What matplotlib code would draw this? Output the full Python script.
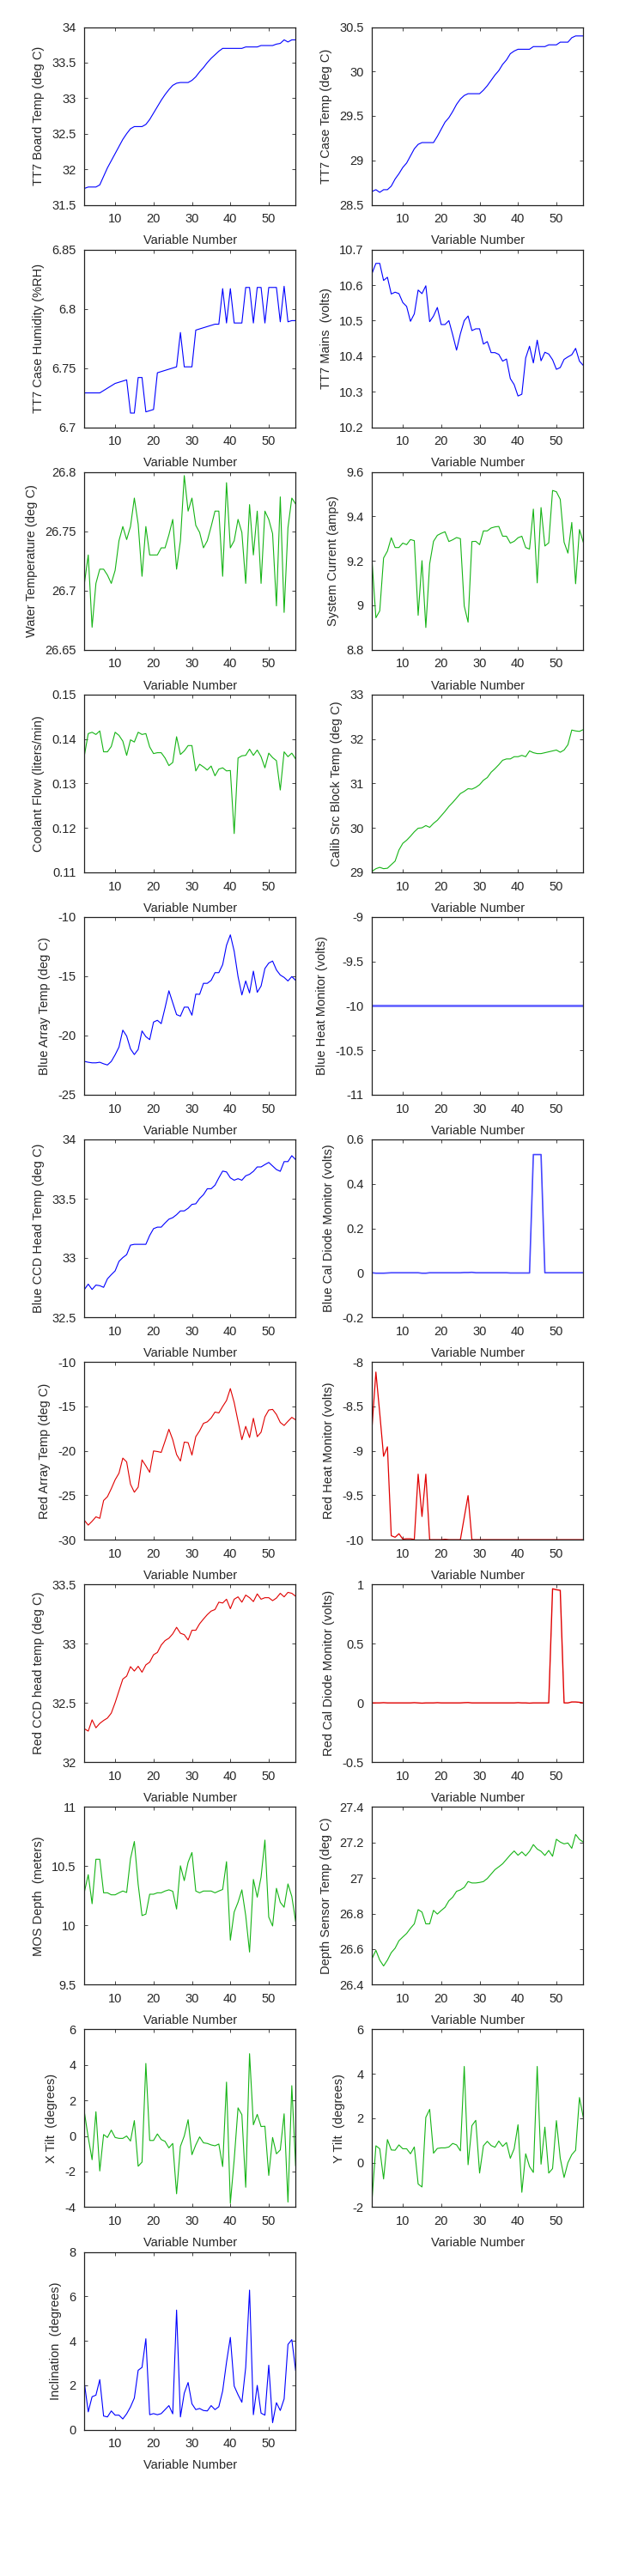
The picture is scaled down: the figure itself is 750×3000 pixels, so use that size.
import numpy as np
import matplotlib
matplotlib.use("Agg")
import matplotlib.pyplot as plt
from matplotlib.ticker import FormatStrFormatter, FuncFormatter

plt.rcParams["font.family"] = ["Liberation Sans", "DejaVu Sans"]

# sample index (Variable Number)
var_num = list(range(2, 58))

board_temp = [31.73, 31.75, 31.75, 31.75, 31.78, 31.9, 32.02, 32.12, 32.22, 32.32, 32.42, 32.5, 32.57, 32.6,
              32.6, 32.6, 32.63, 32.7, 32.79, 32.88, 32.97, 33.05, 33.12, 33.18, 33.21, 33.22, 33.22, 33.22,
              33.25, 33.3, 33.37, 33.43, 33.5, 33.56, 33.61, 33.66, 33.7, 33.7, 33.7, 33.7, 33.7, 33.7,
              33.72, 33.72, 33.72, 33.72, 33.74, 33.74, 33.74, 33.74, 33.76, 33.77, 33.82, 33.79, 33.82, 33.82]
case_temp = [28.65, 28.67, 28.64, 28.67, 28.67, 28.71, 28.79, 28.85, 28.92, 28.97, 29.05, 29.13, 29.18, 29.2,
             29.2, 29.2, 29.2, 29.27, 29.35, 29.43, 29.48, 29.55, 29.63, 29.69, 29.73, 29.75, 29.75, 29.75,
             29.75, 29.79, 29.84, 29.9, 29.96, 30.01, 30.08, 30.13, 30.2, 30.23, 30.25, 30.25, 30.25, 30.25,
             30.28, 30.28, 30.28, 30.28, 30.3, 30.3, 30.3, 30.33, 30.33, 30.33, 30.38, 30.4, 30.4, 30.4]
case_humidity = [6.729, 6.729, 6.729, 6.729, 6.729, 6.731, 6.733, 6.735, 6.737, 6.738, 6.739, 6.740, 6.712,
                 6.712, 6.742, 6.742, 6.713, 6.714, 6.715, 6.746, 6.747, 6.748, 6.749, 6.750, 6.751, 6.780,
                 6.751, 6.751, 6.751, 6.782, 6.783, 6.784, 6.785, 6.786, 6.787, 6.787, 6.817, 6.788, 6.817,
                 6.788, 6.788, 6.788, 6.818, 6.818, 6.788, 6.818, 6.818, 6.788, 6.818, 6.818, 6.818, 6.789,
                 6.819, 6.789, 6.79, 6.79]
mains = [10.633, 10.661, 10.661, 10.613, 10.622, 10.575, 10.58, 10.576, 10.551, 10.54, 10.498, 10.519,
         10.586, 10.576, 10.598, 10.497, 10.513, 10.537, 10.489, 10.489, 10.5, 10.46, 10.417, 10.463, 10.5,
         10.513, 10.472, 10.477, 10.477, 10.434, 10.441, 10.41, 10.41, 10.405, 10.386, 10.392, 10.337, 10.32,
         10.288, 10.293, 10.395, 10.428, 10.381, 10.445, 10.387, 10.411, 10.406, 10.39, 10.363, 10.368,
         10.391, 10.398, 10.404, 10.422, 10.386, 10.374]
water_temp = [26.706, 26.73, 26.669, 26.706, 26.718, 26.718, 26.713, 26.706, 26.717, 26.742, 26.754, 26.743,
              26.754, 26.778, 26.756, 26.712, 26.754, 26.73, 26.73, 26.73, 26.736, 26.736, 26.747, 26.76,
              26.718, 26.742, 26.797, 26.767, 26.778, 26.755, 26.749, 26.736, 26.742, 26.754, 26.767, 26.767,
              26.712, 26.791, 26.736, 26.742, 26.76, 26.749, 26.706, 26.7725, 26.73, 26.767, 26.706, 26.767,
              26.76, 26.748, 26.687, 26.779, 26.6815, 26.753, 26.778, 26.773]
system_current = [9.197, 8.944, 8.975, 9.213, 9.244, 9.304, 9.26, 9.26, 9.28, 9.273, 9.296, 9.291, 8.955,
                  9.201, 8.9, 9.187, 9.288, 9.315, 9.324, 9.331, 9.287, 9.295, 9.305, 9.3, 8.997, 8.924,
                  9.287, 9.288, 9.273, 9.335, 9.335, 9.348, 9.353, 9.355, 9.311, 9.311, 9.28, 9.288, 9.304,
                  9.311, 9.26, 9.253, 9.433, 9.101, 9.44, 9.267, 9.281, 9.517, 9.511, 9.477, 9.284, 9.235,
                  9.373, 9.097, 9.341, 9.284]
coolant_flow = [0.1363, 0.1412, 0.1415, 0.141, 0.1418, 0.1371, 0.1371, 0.1383, 0.1415, 0.1408, 0.1395,
                0.1363, 0.1398, 0.1393, 0.1415, 0.141, 0.1412, 0.1382, 0.1367, 0.1369, 0.1369, 0.1357,
                0.134, 0.1347, 0.1405, 0.1365, 0.1373, 0.1385, 0.1385, 0.1328, 0.1343, 0.1337, 0.133,
                0.1339, 0.1317, 0.1332, 0.1335, 0.1328, 0.1329, 0.1187, 0.1357, 0.1362, 0.1363, 0.1377,
                0.1363, 0.1375, 0.136, 0.1335, 0.1368, 0.1358, 0.1351, 0.1285, 0.1371, 0.136, 0.1368, 0.1355]
calib_block = [29.02, 29.08, 29.11, 29.08, 29.09, 29.17, 29.25, 29.5, 29.65, 29.72, 29.81, 29.91, 29.99, 30.0,
               30.05, 30.01, 30.1, 30.17, 30.27, 30.37, 30.48, 30.57, 30.67, 30.77, 30.82, 30.88, 30.87,
               30.91, 30.97, 31.07, 31.13, 31.25, 31.33, 31.42, 31.52, 31.55, 31.55, 31.6, 31.6, 31.63,
               31.6, 31.73, 31.69, 31.67, 31.67, 31.69, 31.71, 31.73, 31.75, 31.7, 31.75, 31.87, 32.2,
               32.18, 32.17, 32.21]
blue_array = [-22.19, -22.26, -22.31, -22.31, -22.26, -22.39, -22.49, -22.19, -21.63, -20.98, -19.55, -20.05,
              -21.13, -21.61, -21.18, -19.62, -20.1, -20.35, -18.87, -18.72, -19.0, -17.66, -16.23, -17.24,
              -18.24, -18.37, -17.61, -17.61, -18.29, -16.51, -16.53, -15.6, -15.6, -15.35, -14.7, -14.7,
              -14.02, -12.39, -11.51, -12.89, -15.03, -16.58, -15.4, -16.41, -14.57, -16.36, -15.83, -14.35,
              -13.89, -13.72, -14.47, -14.9, -15.1, -15.4, -15.03, -15.35]
blue_heat = [-10.0] * 56
blue_ccd = [32.734, 32.779, 32.734, 32.771, 32.766, 32.752, 32.824, 32.859, 32.891, 32.971, 33.003, 33.028,
            33.108, 33.115, 33.115, 33.115, 33.115, 33.19, 33.247, 33.26, 33.26, 33.295, 33.327, 33.34,
            33.365, 33.397, 33.397, 33.419, 33.452, 33.457, 33.502, 33.534, 33.584, 33.584, 33.614, 33.676,
            33.733, 33.726, 33.676, 33.656, 33.669, 33.656, 33.693, 33.706, 33.731, 33.768, 33.768, 33.788,
            33.806, 33.776, 33.746, 33.731, 33.813, 33.813, 33.863, 33.83]
blue_cal = [0.0, -0.002, -0.002, -0.002, -0.001, 0.0, 0.0, 0.0, 0.0, 0.0, 0.0, 0.0, 0.0, -0.002, -0.002, 0.0,
            0.0, 0.0, 0.0, 0.0, 0.0, 0.0, 0.0, 0.0, 0.001, 0.001, 0.002, 0.0, 0.0, 0.0, 0.0, 0.0, 0.0,
            0.0, 0.0, 0.0, -0.001, -0.001, -0.001, -0.001, -0.001, -0.001, 0.532, 0.532, 0.532, 0.0, 0.0,
            0.0, 0.0, 0.0, 0.0, 0.0, 0.0, 0.0, 0.0, 0.0]
red_array = [-27.83, -28.36, -27.93, -27.43, -27.6, -25.59, -25.16, -24.26, -23.26, -22.52, -20.82, -21.25,
             -23.76, -24.66, -24.09, -21.02, -21.69, -22.42, -20.02, -20.08, -20.18, -18.91, -17.58, -18.75,
             -20.42, -21.15, -19.02, -19.08, -20.48, -18.41, -17.75, -16.91, -16.74, -16.31, -15.64, -15.74,
             -15.01, -14.34, -13.0, -14.57, -16.68, -18.75, -17.25, -18.51, -16.34, -18.41, -17.91, -16.18,
             -15.41, -15.34, -15.91, -16.81, -17.15, -16.68, -16.24, -16.51]
red_heat = [-8.727, -8.114, -8.576, -9.062, -8.955, -9.956, -9.973, -9.933, -9.993, -9.99, -9.99, -9.997,
            -9.263, -9.739, -9.263, -10.0, -10.0, -10.0, -10.0, -9.995, -10.0, -10.0, -10.0, -10.0, -9.75,
            -9.504, -10.0, -10.0, -10.0, -10.0, -10.0, -10.0, -10.0, -10.0, -10.0, -10.0, -10.0, -10.0,
            -10.0, -10.0, -10.0, -10.0, -10.0, -10.0, -10.0, -10.0, -10.0, -10.0, -10.0, -10.0, -10.0,
            -10.0, -10.0, -10.0, -10.0, -10.0]
red_ccd = [32.282, 32.262, 32.357, 32.29, 32.327, 32.352, 32.372, 32.414, 32.502, 32.602, 32.701, 32.726,
           32.806, 32.769, 32.809, 32.759, 32.821, 32.844, 32.906, 32.926, 32.988, 33.026, 33.046, 33.083,
           33.138, 33.088, 33.076, 33.031, 33.113, 33.113, 33.168, 33.208, 33.245, 33.275, 33.288, 33.35,
           33.343, 33.375, 33.295, 33.375, 33.395, 33.35, 33.41, 33.388, 33.355, 33.42, 33.375, 33.388,
           33.388, 33.363, 33.385, 33.425, 33.395, 33.433, 33.425, 33.4]
red_cal = [0.0, 0.0, 0.0, 0.002, 0.0, 0.0, 0.0, 0.0, 0.0, 0.0, 0.0, 0.002, 0.0, -0.002, 0.0, 0.0, 0.0, 0.002,
           0.0, 0.0, 0.0, 0.0, 0.0, 0.0, 0.002, 0.003, 0.0, 0.0, 0.0, 0.0, 0.0, 0.0, 0.0, 0.0, 0.0, 0.0,
           0.0, 0.0, 0.002, 0.0, 0.0, -0.002, 0.0, 0.0, 0.0, 0.0, 0.0, 0.963, 0.955, 0.95, 0.0, 0.0, 0.008,
           0.008, 0.005, 0.0]
mos_depth = [10.283, 10.428, 10.183, 10.558, 10.558, 10.275, 10.275, 10.258, 10.258, 10.275, 10.29, 10.278,
             10.563, 10.708, 10.345, 10.083, 10.095, 10.263, 10.263, 10.275, 10.275, 10.29, 10.3, 10.288,
             10.138, 10.503, 10.378, 10.533, 10.615, 10.29, 10.275, 10.29, 10.29, 10.29, 10.275, 10.29,
             10.303, 10.538, 9.875, 10.113, 10.195, 10.3, 10.083, 9.775, 10.388, 10.238, 10.408, 10.72,
             10.07, 9.995, 10.313, 10.195, 10.153, 10.35, 10.245, 10.033]
depth_temp = [26.547, 26.593, 26.538, 26.505, 26.538, 26.58, 26.605, 26.647, 26.668, 26.688, 26.717, 26.742,
              26.822, 26.808, 26.742, 26.742, 26.818, 26.797, 26.817, 26.835, 26.872, 26.892, 26.925, 26.933,
              26.947, 26.98, 26.972, 26.972, 26.975, 26.98, 26.997, 27.022, 27.047, 27.063, 27.08, 27.105,
              27.13, 27.152, 27.128, 27.147, 27.125, 27.15, 27.188, 27.163, 27.15, 27.127, 27.155, 27.122,
              27.218, 27.202, 27.192, 27.197, 27.167, 27.245, 27.217, 27.202]
x_tilt = [1.333, -0.083, -1.333, 1.367, -1.967, 0.083, -0.083, 0.333, -0.083, -0.133, -0.133, 0.0, -0.283,
          0.867, -1.7, -1.467, 4.083, -0.25, -0.25, 0.117, -0.2, -0.3, -0.667, -0.417, -3.25, -0.583, 0.0,
          0.917, -1.05, -0.5, -0.05, -0.383, -0.417, -0.5, -0.55, -0.45, -1.717, 3.033, -3.783, -1.333,
          1.583, 1.2, -2.883, 4.633, 0.633, 1.217, 0.533, 0.55, -2.217, -0.083, -1.0, -0.783, 1.25, -3.717,
          2.833, -1.667]
y_tilt = [-1.64, 0.76, 0.627, -0.733, 1.04, 0.573, 0.56, 0.8, 0.627, 0.627, 0.4, 0.707, -0.96, -1.093, 2.04,
          2.4, 0.427, 0.64, 0.667, 0.667, 0.707, 0.867, 0.8, 0.533, 4.333, -0.093, 1.667, 1.907, -0.467,
          0.76, 0.96, 0.773, 0.693, 0.973, 0.733, 0.907, 0.2, 0.627, 1.707, -1.333, 0.4, -0.173, -0.44,
          4.333, -0.067, 1.6, -0.467, -0.267, 1.893, 0.2, -0.667, 0.0, 0.36, 0.56, 2.933, 2.04]
inclination = [2.09, 0.8, 1.48, 1.55, 2.25, 0.61, 0.57, 0.84, 0.65, 0.65, 0.48, 0.71, 1.02, 1.42, 2.67, 2.8,
               4.09, 0.67, 0.72, 0.67, 0.72, 0.9, 1.08, 0.71, 5.38, 0.57, 1.64, 2.12, 1.16, 0.9, 0.95, 0.86,
               0.84, 1.08, 0.9, 1.03, 1.74, 3.03, 4.15, 1.96, 1.57, 1.23, 2.8, 6.28, 0.67, 1.99, 0.74, 0.65,
               2.9, 0.31, 1.21, 0.86, 1.38, 3.83, 4.05, 2.67]

BLUE = "#0000ff"
GREEN = "#16b416"
RED = "#e00000"

# (data, ylabel, ylim, yticks step, colour, linewidth)
panels = [
    (board_temp, "TT7 Board Temp (deg C)", (31.5, 34), 0.5, BLUE, 0.8),
    (case_temp, "TT7 Case Temp (deg C)", (28.5, 30.5), 0.5, BLUE, 0.8),
    (case_humidity, "TT7 Case Humidity (%RH)", (6.7, 6.85), 0.05, BLUE, 0.8),
    (mains, "TT7 Mains  (volts)", (10.2, 10.7), 0.1, BLUE, 0.8),
    (water_temp, "Water Temperature (deg C)", (26.65, 26.8), 0.05, GREEN, 0.8),
    (system_current, "System Current (amps)", (8.8, 9.6), 0.2, GREEN, 0.8),
    (coolant_flow, "Coolant Flow (liters/min)", (0.11, 0.15), 0.01, GREEN, 0.8),
    (calib_block, "Calib Src Block Temp (deg C)", (29, 33), 1, GREEN, 0.8),
    (blue_array, "Blue Array Temp (deg C)", (-25, -10), 5, BLUE, 0.8),
    (blue_heat, "Blue Heat Monitor (volts)", (-11, -9), 0.5, "#5a5aff", 1.8),
    (blue_ccd, "Blue CCD Head Temp (deg C)", (32.5, 34), 0.5, BLUE, 0.8),
    (blue_cal, "Blue Cal Diode Monitor (volts)", (-0.2, 0.6), 0.2, "#4646ff", 1.2),
    (red_array, "Red Array Temp (deg C)", (-30, -10), 5, RED, 0.8),
    (red_heat, "Red Heat Monitor (volts)", (-10, -8), 0.5, RED, 0.9),
    (red_ccd, "Red CCD head temp (deg C)", (32, 33.5), 0.5, RED, 0.8),
    (red_cal, "Red Cal Diode Monitor (volts)", (-0.5, 1), 0.5, RED, 1.0),
    (mos_depth, "MOS Depth  (meters)", (9.5, 11), 0.5, GREEN, 0.8),
    (depth_temp, "Depth Sensor Temp (deg C)", (26.4, 27.4), 0.2, GREEN, 0.8),
    (x_tilt, "X Tilt  (degrees)", (-4, 6), 2, GREEN, 0.8),
    (y_tilt, "Y Tilt  (degrees)", (-2, 6), 2, GREEN, 0.8),
    (inclination, "Inclination  (degrees)", (0, 8), 2, BLUE, 0.8),
]

W, H = 750, 3000
fig = plt.figure(figsize=(W / 100, H / 100), dpi=100)

col_left = [98.3, 433.3]
ax_w = 246.0
ax_h = 207.0
row_top0 = 31.5
row_pitch = 259.1

fmt = FuncFormatter(lambda v, p: ("%g" % round(v, 6)))

for i, (vals, label, ylim, step, color, lw) in enumerate(panels):
    row, col = divmod(i, 2)
    top = row_top0 + row * row_pitch
    ax = fig.add_axes([col_left[col] / W, 1 - (top + ax_h) / H, ax_w / W, ax_h / H])
    ax.plot(var_num, vals, color=color, linewidth=lw)
    ax.set_xlim(2, 57)
    ax.set_ylim(*ylim)
    ax.set_xticks([10, 20, 30, 40, 50])
    ax.set_yticks(np.arange(ylim[0], ylim[1] + step / 2, step))
    ax.yaxis.set_major_formatter(fmt)
    ax.tick_params(direction="in", length=3, width=0.6, top=True, right=True,
                   labelsize=10.5, colors="#262626", pad=7)
    for s in ax.spines.values():
        s.set_linewidth(0.9)
        s.set_color("#222222")
    ax.set_xlabel("Variable Number", fontsize=10.5, color="#262626", labelpad=8)
    ax.set_ylabel(label, fontsize=10.5, color="#262626", labelpad=6)

fig.savefig("out.png", dpi=100)
